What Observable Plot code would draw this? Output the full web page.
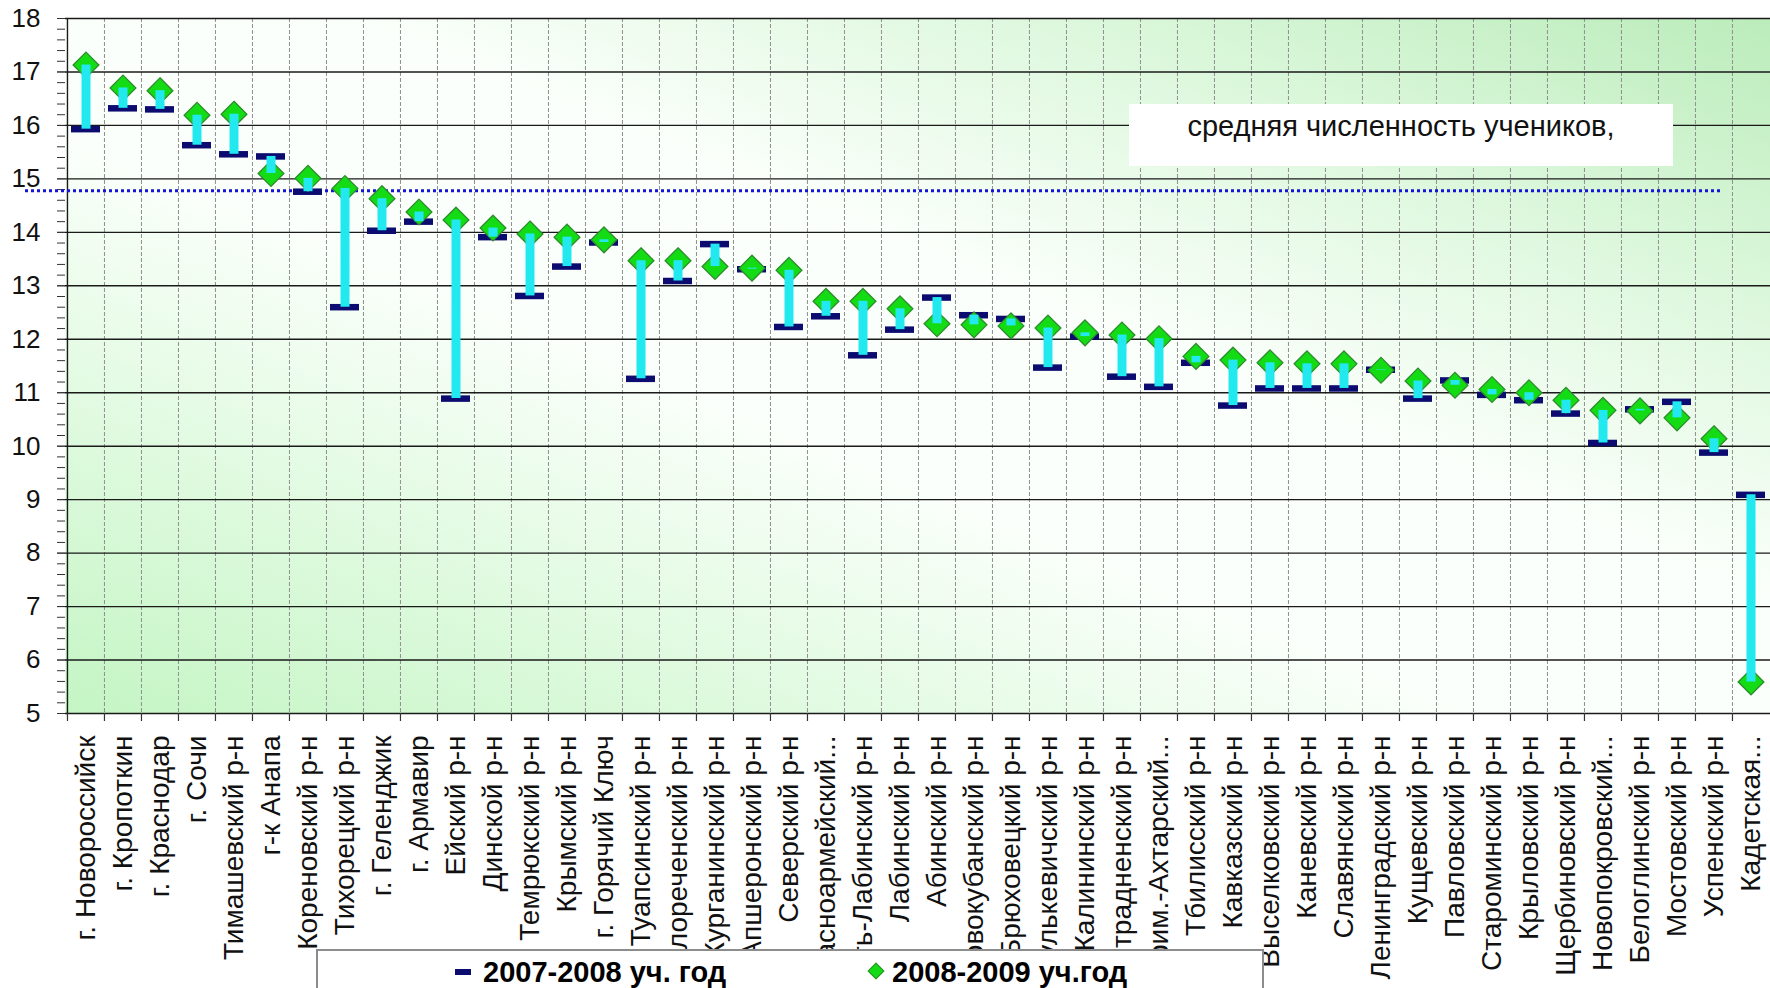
<!DOCTYPE html>
<html>
<head>
<meta charset="utf-8">
<script src="https://cdn.jsdelivr.net/npm/d3@7"></script>
<script src="https://cdn.jsdelivr.net/npm/@observablehq/plot@0.6"></script>
<style>
  html, body { margin: 0; padding: 0; background: #ffffff; }
  #wrap { position: relative; width: 1770px; height: 988px; overflow: hidden; font-family: "Liberation Sans", Arial, sans-serif; }
  #note { position: absolute; left: 1129px; top: 104px; width: 544px; height: 62px; background: #ffffff;
          font-size: 29px; line-height: 44px; text-align: center; color: #111; }
  #legend { position: absolute; left: 316px; top: 949px; width: 944px; height: 60px; background: #ffffff;
            border: 2px solid #8c8c8c; font-weight: bold; font-size: 29px; color: #000; }
  #legend .item { position: absolute; top: 2px; line-height: 38px; white-space: nowrap; }
</style>
</head>
<body>
<svg width="0" height="0" style="position:absolute">
  <defs>
    <linearGradient id="bgGrad" x1="0" y1="1" x2="1" y2="0">
      <stop offset="0" stop-color="#c4f5c4"/>
      <stop offset="0.22" stop-color="#e0fae0"/>
      <stop offset="0.42" stop-color="#fbfffb"/>
      <stop offset="0.58" stop-color="#fbfffb"/>
      <stop offset="0.8" stop-color="#dbf7db"/>
      <stop offset="1" stop-color="#bbecbb"/>
    </linearGradient>
  </defs>
</svg>
<div id="wrap">
  <div id="chart"></div>
  <div id="note">средняя численность учеников,</div>
  <div id="legend">
    <div class="item" style="left:137px;"><span style="display:inline-block;width:16px;height:6px;background:#0b0b70;vertical-align:middle;margin-right:12px;position:relative;top:-2px;"></span>2007-2008 уч. год</div>
    <div class="item" style="left:552px;"><span style="display:inline-block;width:10px;height:10px;background:#14dc14;border:1px solid #2e8b2e;transform:rotate(45deg);vertical-align:middle;margin-right:10px;position:relative;top:-3px;"></span>2008-2009 уч.год</div>
  </div>
</div>
<script>
// ---- data ----
const regions = [
  "г. Новороссийск", "г. Кропоткин", "г. Краснодар", "г. Сочи", "Тимашевский р-н",
  "г-к Анапа", "Кореновский р-н", "Тихорецкий р-н", "г. Геленджик", "г. Армавир",
  "Ейский р-н", "Динской р-н", "Темрюкский р-н", "Крымский р-н", "г. Горячий Ключ",
  "Туапсинский р-н", "Белореченский р-н", "Курганинский р-н", "Апшеронский р-н", "Северский р-н",
  "Красноармейский...", "Усть-Лабинский р-н", "Лабинский р-н", "Абинский р-н", "Новокубанский р-н",
  "Брюховецкий р-н", "Гулькевичский р-н", "Калининский р-н", "Отрадненский р-н", "Прим.-Ахтарский...",
  "Тбилисский р-н", "Кавказский р-н", "Выселковский р-н", "Каневский р-н", "Славянский р-н",
  "Ленинградский р-н", "Кущевский р-н", "Павловский р-н", "Староминский р-н", "Крыловский р-н",
  "Щербиновский р-н", "Новопокровский...", "Белоглинский р-н", "Мостовский р-н", "Успенский р-н",
  "Кадетская..."
];
const values2007 = [
  15.93, 16.32, 16.30, 15.63, 15.46, 15.42, 14.76, 12.60, 14.03, 14.20,
  10.89, 13.91, 12.81, 13.36, 13.81, 11.26, 13.09, 13.78, 13.31, 12.23,
  12.43, 11.70, 12.18, 12.78, 12.45, 12.38, 11.47, 12.05, 11.30, 11.11,
  11.56, 10.76, 11.08, 11.08, 11.08, 11.43, 10.89, 11.23, 10.96, 10.86,
  10.61, 10.06, 10.69, 10.83, 9.88, 9.09
];
const values2008 = [
  17.13, 16.70, 16.65, 16.19, 16.21, 15.10, 15.01, 14.82, 14.63, 14.38,
  14.23, 14.08, 13.97, 13.91, 13.86, 13.47, 13.47, 13.36, 13.33, 13.29,
  12.71, 12.71, 12.57, 12.29, 12.27, 12.25, 12.21, 12.12, 12.08, 12.01,
  11.68, 11.61, 11.56, 11.54, 11.54, 11.42, 11.22, 11.14, 11.06, 11.00,
  10.86, 10.67, 10.66, 10.53, 10.14, 5.59
];
const averageValue = 14.78;
const majorTicks = [5, 6, 7, 8, 9, 10, 11, 12, 13, 14, 15, 16, 17, 18];
const minorTicks = d3.range(5, 18.001, 0.2);

const rows = regions.map((r, i) => ({region: r, y2007: values2007[i], y2008: values2008[i]}));

// ---- layout ----
const W = 1770, H = 988, mL = 65, mR = 0, mT = 18, mB = 275;
const bw = (W - mL - mR) / regions.length;

const chart = Plot.plot({
  width: W, height: H,
  marginTop: mT, marginBottom: mB, marginLeft: mL, marginRight: mR,
  style: {fontFamily: "'Liberation Sans', Arial, sans-serif", fontSize: "26px", color: "#000", background: "transparent", overflow: "visible"},
  x: {type: "band", domain: regions, padding: 0, axis: null},
  y: {domain: [5, 18], axis: null},
  marks: [
    Plot.frame({fill: "url(#bgGrad)"}),
    Plot.ruleX(regions.slice(1), {x: d => d, dx: -bw / 2, stroke: "#8f8f8f", strokeWidth: 1, strokeDasharray: "4,2"}),
    Plot.ruleY(majorTicks, {stroke: "#1a1a1a", strokeWidth: 1.4}),
    Plot.ruleX([regions[0]], {x: d => d, dx: -bw / 2, stroke: "#1a1a1a", strokeWidth: 1.4}),
    Plot.ruleX(regions, {x: d => d, dx: -bw / 2, y1: 5, y2: 5, insetBottom: -8, stroke: "#333", strokeWidth: 1.2}),
    Plot.axisY({ticks: minorTicks, tickSize: 8, tickFormat: () => "", label: null, stroke: "#333"}),
    Plot.axisY({ticks: majorTicks, tickSize: 8, tickPadding: 17, label: null, fontSize: 26, stroke: "#333", fill: "#111"}),
    Plot.ruleY([averageValue], {stroke: "#1414d6", strokeWidth: 3, strokeDasharray: "3,3", insetLeft: -40, insetRight: 49}),
    Plot.tickY(rows, {x: "region", y: "y2007", stroke: "#0b0b70", strokeWidth: 6.5, inset: 4}),
    Plot.dot(rows, {x: "region", y: "y2008", symbol: "diamond2", r: 11.6, fill: "#14dc14", stroke: "#2e8b2e", strokeWidth: 1.3}),
    Plot.ruleX(rows, {x: "region", y1: "y2007", y2: "y2008", stroke: "#22e8f0", strokeWidth: 9}),
    Plot.text(regions, {x: d => d, frameAnchor: "bottom", dy: 22, rotate: -90, textAnchor: "end", lineAnchor: "middle", fontSize: 28, fill: "#111"})
  ]
});
document.getElementById("chart").appendChild(chart);
</script>
</body>
</html>
